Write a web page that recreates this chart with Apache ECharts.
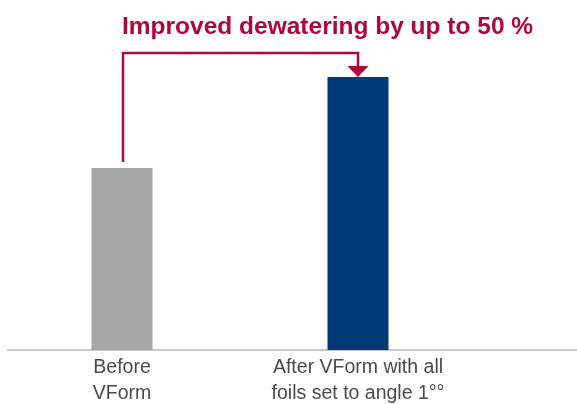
<!DOCTYPE html>
<html><head><meta charset="utf-8">
<script src="https://cdn.jsdelivr.net/npm/echarts@6/dist/echarts.min.js"></script>
<style>html,body{margin:0;padding:0;background:#fff}#c{width:577px;height:404px}</style>
</head><body><div id="c"></div>
<script>
const categories = ['Before\nVForm', 'After VForm with all\nfoils set to angle 1°°'];
const values = [100, 150];
const barColors = ['#A6A6A6', '#003A78'];
const titleText = 'Improved dewatering by up to 50 %';

const chart = echarts.init(document.getElementById('c'));
chart.setOption({
  animation: false,
  title: {
    text: titleText, left: 117, top: 10,
    textStyle: { color: '#B0063A', fontSize: 24.5, fontWeight: 'bold', fontFamily: 'Liberation Sans, Arial, sans-serif' }
  },
  grid: [
    { left: 4, right: 101, top: 77, bottom: 54, outerBoundsMode: 'none', containLabel: false },
    { left: 8, right: 0, top: 77, bottom: 54, outerBoundsMode: 'none', containLabel: false }
  ],
  xAxis: [
    { type: 'category', gridIndex: 0, data: categories,
      axisLine: { show: false }, axisTick: { show: false },
      axisLabel: { color: '#4A4A4A', fontSize: 19.5, lineHeight: 26, margin: 5, interval: 0,
        fontFamily: 'Liberation Sans, Arial, sans-serif' } },
    { type: 'value', gridIndex: 1, min: 0, max: 1,
      axisLine: { show: true, onZero: false, lineStyle: { color: '#C8C8C8', width: 2 } },
      axisTick: { show: false }, axisLabel: { show: false }, splitLine: { show: false } }
  ],
  yAxis: [
    { type: 'value', gridIndex: 0, min: 0, max: 150, show: false, splitLine: { show: false } },
    { type: 'value', gridIndex: 1, min: 0, max: 1, show: false, splitLine: { show: false } }
  ],
  series: [
    { type: 'bar', xAxisIndex: 0, yAxisIndex: 0, barWidth: 61,
      data: values.map((v, i) => ({ value: v, itemStyle: { color: barColors[i] } })) },
    { type: 'custom', xAxisIndex: 0, yAxisIndex: 0, clip: false,
      data: [[0, values[0], 1, values[1]]],
      renderItem: function (params, api) {
        const p0 = api.coord([api.value(0), api.value(1)]);
        const p1 = api.coord([api.value(2), api.value(3)]);
        const top = p1[1] - 24;
        const col = '#B0063A';
        return { type: 'group', children: [
          { type: 'polyline', shape: { points: [[p0[0] + 1, p0[1] - 6], [p0[0] + 1, top], [p1[0], top], [p1[0], p1[1] - 10]] },
            style: { stroke: col, lineWidth: 2.5, fill: null } },
          { type: 'polygon', shape: { points: [[p1[0] - 10.5, p1[1] - 11], [p1[0] + 10.5, p1[1] - 11], [p1[0], p1[1]]] },
            style: { fill: col } }
        ]};
      } }
  ]
});
</script></body></html>
